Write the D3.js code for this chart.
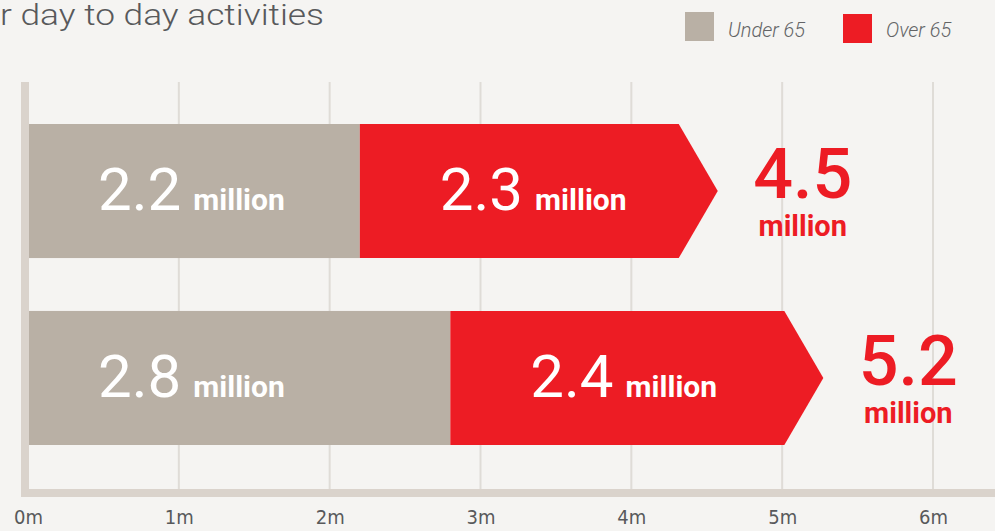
<!DOCTYPE html>
<html>
<head>
<meta charset="utf-8">
<script src="https://cdn.jsdelivr.net/npm/d3@7"></script>
<style>
  html, body { margin: 0; padding: 0; background: #f5f4f2; }
  svg { display: block; }
</style>
</head>
<body>
<div id="chart"></div>
<script>
var width = 995, height = 531;

// data
var categories = ["row1", "row2"];
var under65 = [2.2, 2.8];
var over65 = [2.3, 2.4];
var tickValues = [0, 1, 2, 3, 4, 5, 6];
var tickLabels = ["0m", "1m", "2m", "3m", "4m", "5m", "6m"];
var seriesNames = ["Under 65", "Over 65"];
var seriesColors = ["#b9b0a5", "#ed1c24"];

var rows = categories.map(function(c, i) {
    return {cat: c, u: under65[i], o: over65[i], t: under65[i] + over65[i]};
});

var svg = d3.select("#chart").append("svg")
    .attr("width", width)
    .attr("height", height);

svg.append("rect")
    .attr("width", width).attr("height", height)
    .attr("fill", "#f5f4f2");

var x = d3.scaleLinear().domain([0, 6]).range([28, 933]);
var y = d3.scaleBand().domain(categories).range([124, 445]).paddingInner(0.283);

var gridTop = 82, gridBottom = 489;

// gridlines
svg.append("g").selectAll("line")
    .data(tickValues.slice(1))
    .enter().append("line")
    .attr("x1", function(d) { return x(d); })
    .attr("x2", function(d) { return x(d); })
    .attr("y1", gridTop).attr("y2", gridBottom)
    .attr("stroke", "#dfdcd7")
    .attr("stroke-width", 2);

// axis bars
svg.append("rect")
    .attr("x", x(0) - 7).attr("y", gridTop)
    .attr("width", 8).attr("height", gridBottom + 8 - gridTop)
    .attr("fill", "#dad3cc");
svg.append("rect")
    .attr("x", x(0) - 7).attr("y", gridBottom)
    .attr("width", width - x(0) + 7).attr("height", 8)
    .attr("fill", "#dad3cc");

// tick labels
var xAxis = d3.axisBottom(x)
    .tickValues(tickValues)
    .tickSize(0)
    .tickPadding(0)
    .tickFormat(function(d, i) { return tickLabels[i]; });
var axisG = svg.append("g")
    .attr("transform", "translate(0,510)")
    .call(xAxis);
axisG.select(".domain").remove();
axisG.selectAll("text")
    .attr("dy", "0.71em")
    .style("font-family", "'DejaVu Sans Condensed', 'DejaVu Sans', sans-serif")
    .style("font-size", "20px")
    .attr("fill", "#58595b");

// bars
var bars = svg.append("g").selectAll("g")
    .data(rows)
    .enter().append("g");

bars.append("rect")
    .attr("x", x(0) + 1)
    .attr("y", function(d) { return y(d.cat); })
    .attr("width", function(d) { return x(d.u) - x(0) - 1; })
    .attr("height", y.bandwidth())
    .attr("fill", seriesColors[0]);

bars.append("path")
    .attr("d", function(d) {
        var x0 = x(d.u), xe = x(d.t) - 28, tip = x(d.t) + 11;
        var top = y(d.cat), bot = top + y.bandwidth(), mid = top + y.bandwidth() / 2;
        return "M" + x0 + "," + top + "L" + xe + "," + top + "L" + tip + "," + mid +
            "L" + xe + "," + bot + "L" + x0 + "," + bot + "Z";
    })
    .attr("fill", seriesColors[1]);

function segLabel(sel, xf, val) {
    var t = sel.append("text")
        .attr("x", xf)
        .attr("y", function(d) { return y(d.cat) + y.bandwidth() / 2 + 19; })
        .attr("fill", "#ffffff")
        .style("font-family", "Roboto, sans-serif");
    t.append("tspan")
        .style("font-size", "60px")
        .style("font-weight", 400)
        .text(function(d) { return d3.format(".1f")(val(d)); });
    t.append("tspan")
        .attr("dx", 12)
        .style("font-size", "30px")
        .style("font-weight", 700)
        .text("million");
}
segLabel(bars, function(d) { return x(0) + 70; }, function(d) { return d.u; });
segLabel(bars, function(d) { return x(d.u) + 80; }, function(d) { return d.o; });

// totals
bars.append("text")
    .attr("x", function(d) { return x(d.t) + 11 + 85; })
    .attr("y", function(d) { return y(d.cat) + y.bandwidth() / 2 + 7; })
    .attr("text-anchor", "middle")
    .attr("fill", "#ed1c24")
    .style("font-family", "Roboto, sans-serif")
    .style("font-size", "70px")
    .style("font-weight", 500)
    .text(function(d) { return d3.format(".1f")(d.t); });
bars.append("text")
    .attr("x", function(d) { return x(d.t) + 11 + 85; })
    .attr("y", function(d) { return y(d.cat) + y.bandwidth() / 2 + 45; })
    .attr("text-anchor", "middle")
    .attr("fill", "#ed1c24")
    .style("font-family", "Roboto, sans-serif")
    .style("font-size", "29px")
    .style("font-weight", 700)
    .text("million");

// title (cut at left edge)
svg.append("text")
    .attr("x", 0).attr("y", 25)
    .attr("textLength", 324)
    .attr("lengthAdjust", "spacingAndGlyphs")
    .attr("fill", "#58595b")
    .style("font-family", "Roboto, sans-serif")
    .style("font-size", "29px")
    .style("font-weight", 300)
    .text("r day to day activities");

// legend
var legendX = [685, 843], legendY = [12, 14];
var legend = svg.append("g").selectAll("g")
    .data(seriesNames)
    .enter().append("g");
legend.append("rect")
    .attr("x", function(d, i) { return legendX[i]; })
    .attr("y", function(d, i) { return legendY[i]; })
    .attr("width", 29).attr("height", 29)
    .attr("fill", function(d, i) { return seriesColors[i]; });
legend.append("text")
    .attr("x", function(d, i) { return legendX[i] + 43; })
    .attr("y", 37)
    .attr("fill", "#636466")
    .style("font-family", "Roboto, sans-serif")
    .style("font-size", "20px")
    .style("font-style", "italic")
    .style("font-weight", 300)
    .text(function(d) { return d; });
</script>
</body>
</html>
